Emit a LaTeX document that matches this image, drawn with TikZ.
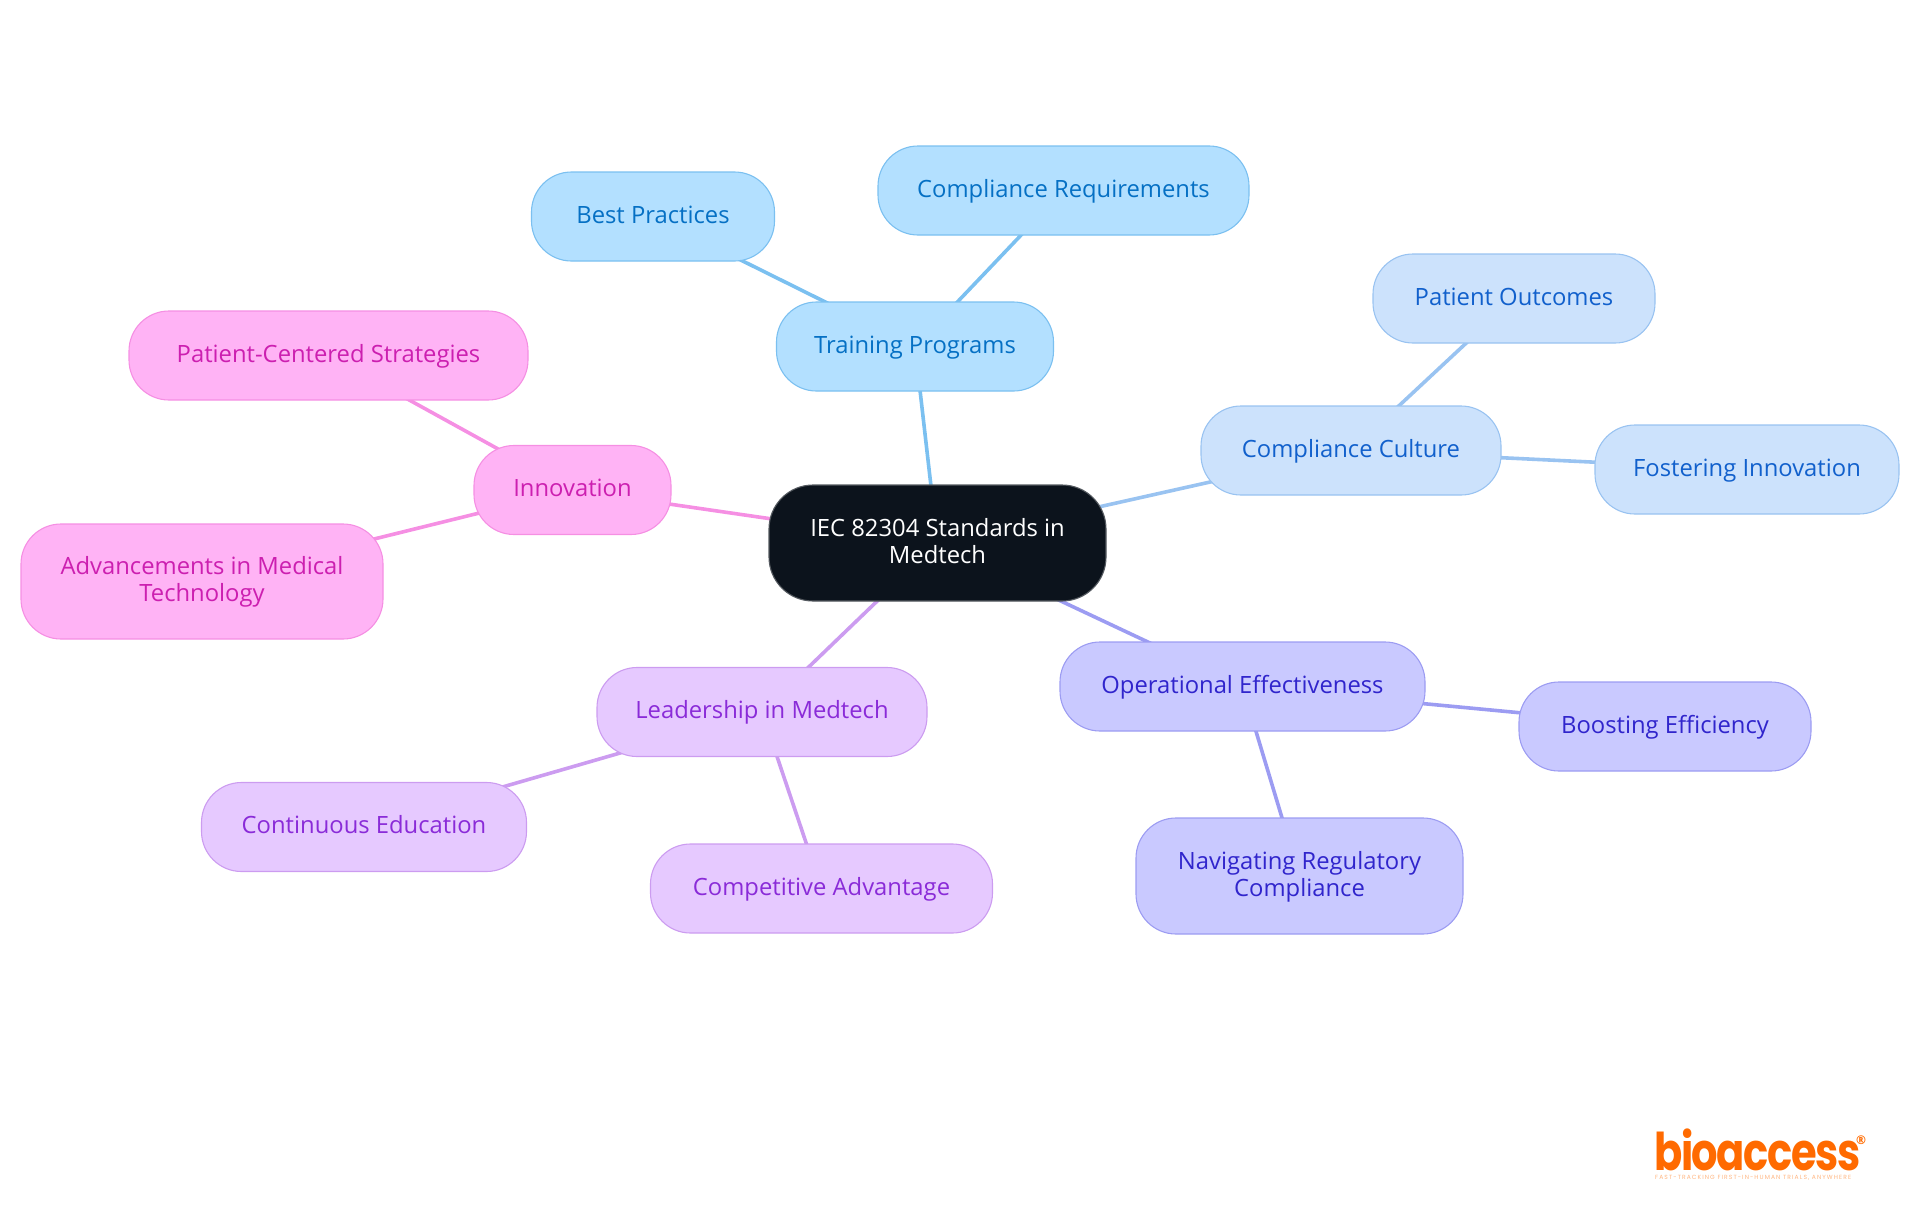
\documentclass[tikz,border=0pt]{standalone}
\usepackage{graphicx}
\usepackage{fontspec}
\setmainfont{Open Sans}
\newfontfamily\logofont[LetterSpace=-3.5]{Poppins}
\newfontfamily\tagfont[LetterSpace=18]{Poppins}
\usetikzlibrary{backgrounds,calc}
\definecolor{trainF}{HTML}{B3E0FF}\definecolor{trainD}{HTML}{7BC0F0}\definecolor{trainT}{HTML}{0570C4}
\definecolor{cultF}{HTML}{CCE2FC}\definecolor{cultD}{HTML}{99C3F1}\definecolor{cultT}{HTML}{1160CC}
\definecolor{operF}{HTML}{C9C9FF}\definecolor{operD}{HTML}{9C9CF2}\definecolor{operT}{HTML}{3025CC}
\definecolor{leadF}{HTML}{E6C9FF}\definecolor{leadD}{HTML}{CC9CF0}\definecolor{leadT}{HTML}{8A2BD8}
\definecolor{innoF}{HTML}{FFB3F5}\definecolor{innoD}{HTML}{F58FE3}\definecolor{innoT}{HTML}{CC1FB0}
\definecolor{rootF}{HTML}{0C131C}\definecolor{rootD}{HTML}{555A60}\definecolor{logoO}{HTML}{FF6A00}
\newcommand{\ls}{\rule[-6.4pt]{0pt}{26.4pt}}
\tikzset{
  pill/.style={draw,line width=1.1pt,rounded corners=40pt,align=center,inner sep=0pt,font=\fontsize{23.8}{26.7}\selectfont},
  train/.style={pill,fill=trainF,draw=trainD,text=trainT},
  cult/.style={pill,fill=cultF,draw=cultD,text=cultT},
  oper/.style={pill,fill=operF,draw=operD,text=operT},
  lead/.style={pill,fill=leadF,draw=leadD,text=leadT},
  inno/.style={pill,fill=innoF,draw=innoD,text=innoT},
  rootn/.style={pill,fill=rootF,draw=rootD,text=white,rounded corners=44pt},
  link/.style={line width=3.6pt},
  box/.style args={#1x#2}{minimum width=#1pt,minimum height=#2pt},
}
\begin{document}
\begin{tikzpicture}[x=1pt,y=-1pt]
\useasboundingbox (0,0) rectangle (1920,1215);
\node[rootn,box=337x116] (root) at (937.5,543) {\ls IEC 82304 Standards in\\\ls Medtech};
\node[train,box=277x89] (training) at (915,346.5) {\ls Training Programs};
\node[train,box=243x89] (best) at (653,216.5) {\ls Best Practices};
\node[train,box=371x89] (compreq) at (1063.5,190.5) {\ls Compliance Requirements};
\node[cult,box=300x89] (culture) at (1351,450.5) {\ls Compliance Culture};
\node[cult,box=282x89] (outcomes) at (1514,298.5) {\ls Patient Outcomes};
\node[cult,box=304x89] (fostering) at (1747,469.5) {\ls Fostering Innovation};
\node[oper,box=365x89] (oper) at (1242.5,686.5) {\ls Operational Effectiveness};
\node[oper,box=292x89] (boost) at (1665,726.5) {\ls Boosting Efficiency};
\node[oper,box=327x116] (navig) at (1299.5,876) {\ls Navigating Regulatory\\\ls Compliance};
\node[lead,box=330x89] (leader) at (762,712) {\ls Leadership in Medtech};
\node[lead,box=325x89] (contin) at (364,827) {\ls Continuous Education};
\node[lead,box=342x89] (compet) at (821.5,888.5) {\ls Competitive Advantage};
\node[inno,box=197x89] (innov) at (572.5,490) {\ls Innovation};
\node[inno,box=399x89] (patient) at (328.5,355.5) {\ls Patient-Centered Strategies};
\node[inno,box=362x115] (advance) at (202,581.5) {\ls Advancements in Medical\\\ls Technology};
\node[font=\logofont\bfseries\fontsize{52}{52}\selectfont,text=logoO,inner sep=0pt,anchor=base west] (logo) at (1654,1170) {\scalebox{0.8}[1]{bioaccess}};
\node[font=\fontsize{12}{12}\selectfont\bfseries,text=logoO,inner sep=0pt] (reg) at (1861,1140) {®};
\node[font=\tagfont\fontsize{6}{7}\selectfont,text=logoO!50,inner sep=0pt,anchor=base west] (tag) at (1655,1179) {FAST-TRACKING FIRST-IN-HUMAN TRIALS, ANYWHERE};
\begin{scope}[on background layer]
\draw[link,trainD] (root.center) -- (training.center);
\draw[link,trainD] (training.center) -- (best.center);
\draw[link,trainD] (training.center) -- (compreq.center);
\draw[link,cultD] (root.center) -- (culture.center);
\draw[link,cultD] (culture.center) -- (outcomes.center);
\draw[link,cultD] (culture.center) -- (fostering.center);
\draw[link,operD] (root.center) -- (oper.center);
\draw[link,operD] (oper.center) -- (boost.center);
\draw[link,operD] (oper.center) -- (navig.center);
\draw[link,leadD] (root.center) -- (leader.center);
\draw[link,leadD] (leader.center) -- (contin.center);
\draw[link,leadD] (leader.center) -- (compet.center);
\draw[link,innoD] (root.center) -- (innov.center);
\draw[link,innoD] (innov.center) -- (patient.center);
\draw[link,innoD] (innov.center) -- (advance.center);
\end{scope}
\end{tikzpicture}
\end{document}
